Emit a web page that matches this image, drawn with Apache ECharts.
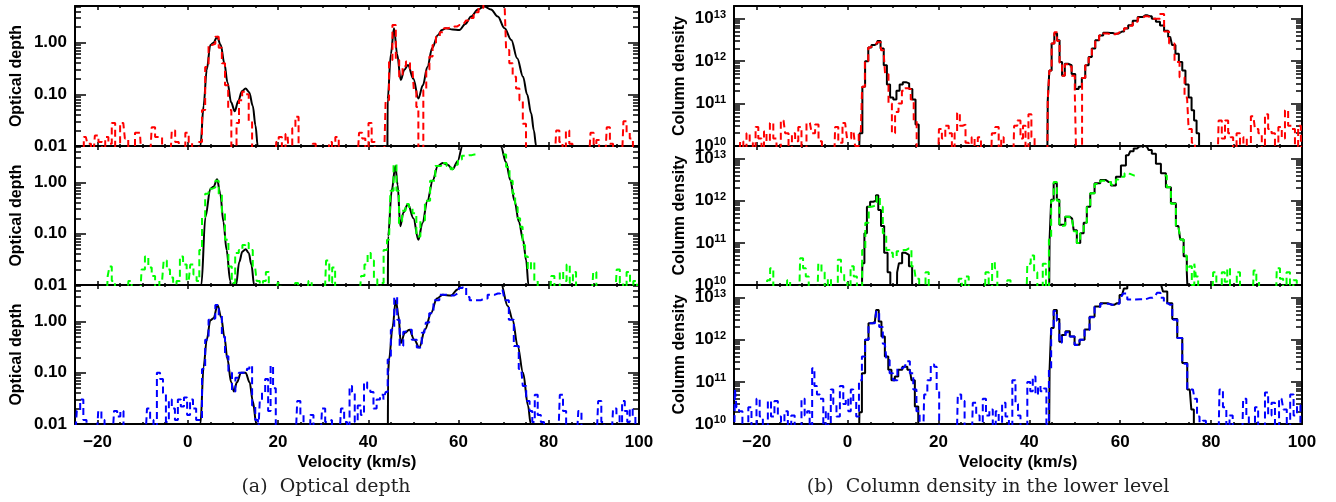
<!DOCTYPE html>
<html>
<head>
<meta charset="utf-8">
<script src="https://cdn.jsdelivr.net/npm/echarts@6/dist/echarts.min.js"></script>
<style>
  html, body { margin: 0; padding: 0; background: #fff; }
  #chart { width: 1336px; height: 502px; }
</style>
</head>
<body>
<div id="chart"></div>
<script>
// ---------- Velocity axis ticks (km/s) ----------
const velMajorTicks = [-20, 0, 20, 40, 60, 80, 100];
const velMinorTicks = [-15, -10, -5, 5, 10, 15, 25, 30, 35, 45, 50, 55, 65, 70, 75, 85, 90, 95];
const tauTickLabels = [0.01, 0.1, 1];
const colTickLabels = [1e10, 1e11, 1e12, 1e13];

// ---------- Optical depth: model (black) and measured (dashed) [velocity, tau] ----------
const tauModelA = [[2.6,0.002],[2.8,0.01],[3.5,0.06],[4.2,0.3],[5.0,0.9],[5.7,1.0],[6.5,1.3],[7.3,0.9],[8.1,0.4],[8.8,0.17],[9.6,0.07],[10.4,0.047],[11.2,0.075],[12.0,0.115],[12.8,0.13],[13.6,0.11],[14.4,0.06],[15.0,0.025],[15.5,0.01],[15.8,0.003],
  [44.2,0.002],[44.3,0.08],[45.0,0.6],[45.7,1.9],[46.4,0.6],[47.2,0.19],[48.0,0.3],[48.8,0.37],[50.0,0.2],[51.1,0.083],[52.1,0.15],[53.1,0.34],[54.2,0.8],[55.4,1.4],[56.3,1.75],[57.2,1.9],[58.7,1.8],[60.2,1.76],[61.5,2.3],[62.8,3.2],[64.3,4.4],[65.7,5.0],[67.2,4.4],[68.7,3.2],[70.2,1.9],[71.7,1.13],[73.0,0.5],[74.3,0.22],[75.2,0.1],[76.1,0.043],[76.7,0.02],[77.2,0.01],[77.5,0.004]];

const tauRed = [[-25,0.005],[-23.5,0.005],[-22.6,0.015],[-21.9,0.011],[-21,0.005],[-20.2,0.016],[-19.4,0.012],[-18.6,0.005],[-18,0.015],[-17.2,0.011],[-16.5,0.028],[-15.7,0.005],[-14.3,0.028],[-13.6,0.014],[-12.8,0.005],[-10.6,0.018],[-9.9,0.005],[-8.4,0.005],[-7.6,0.023],[-6.9,0.015],[-6.1,0.015],[-5.3,0.005],[-3.9,0.005],[-3.2,0.02],[-2.4,0.012],[-1.6,0.005],[-0.9,0.005],[-0.2,0.018],[0.6,0.012],[1.3,0.005],[2.1,0.005],[2.8,0.012],[3.5,0.05],[4.2,0.34],[5.0,0.9],[5.7,0.95],[6.5,1.3],[7.2,0.8],[7.9,0.4],[8.6,0.15],[9.3,0.05],[10.0,0.006],[10.6,0.006],[11.0,0.028],[11.7,0.077],[12.4,0.112],[13.1,0.1],[13.9,0.03],[14.6,0.005],
  [19.4,0.005],[19.8,0.012],[20.5,0.015],[21.2,0.005],[22.1,0.017],[22.8,0.005],[23.5,0.022],[24.2,0.037],[24.9,0.005],[27.4,0.005],[28,0.011],[28.7,0.005],[31.1,0.005],[31.6,0.012],[32.3,0.005],[33.1,0.015],[33.8,0.005],[37.6,0.005],[38.3,0.018],[39,0.014],[39.7,0.005],[40.4,0.028],[41.1,0.012],[41.8,0.005],[43.5,0.005],
  [44.2,0.077],[45.0,0.46],[45.7,2.2],[46.5,0.46],[47.2,0.22],[48.0,0.35],[48.7,0.43],[49.8,0.3],[50.4,0.12],[50.9,0.057],[51.3,0.005],[51.9,0.005],[52.5,0.12],[53.2,0.3],[53.9,0.54],[54.6,0.9],[55.4,1.3],[56.3,1.6],[57.2,1.9],[58.1,1.95],[59.1,2.05],[60.2,2.2],[61.3,2.4],[62.0,2.7],[62.8,3.0],[63.9,3.9],[65,4.7],[66,6],[67,7],[68,7.5],[69,8],[70.2,6],[70.9,0.72],[71.6,0.4],[72.4,0.22],[73.1,0.13],[73.9,0.077],[74.6,0.027],[75.3,0.005],
  [81.3,0.005],[82,0.02],[82.7,0.012],[83.4,0.005],[84.2,0.02],[84.9,0.011],[85.6,0.005],[88.9,0.005],[89.6,0.018],[90.3,0.005],[90.8,0.013],[91.5,0.005],[92.5,0.005],[93.2,0.023],[93.9,0.011],[94.6,0.005],[96.2,0.005],[96.9,0.03],[97.6,0.018],[98.3,0.014],[99,0.005],[100,0.005]];

const tauModelB = [[2.8,0.002],[3.0,0.01],[3.9,0.21],[5.0,0.75],[5.7,0.82],[6.5,1.15],[7.2,0.6],[7.9,0.17],[8.6,0.048],[9.4,0.012],[9.6,0.008],[9.8,0.002],[10.5,0.002],[10.7,0.01],[11.4,0.028],[12.1,0.045],[12.8,0.05],[13.5,0.042],[14.1,0.025],[14.7,0.01],[14.9,0.002],
  [44.3,0.002],[44.4,0.09],[45.2,0.7],[46.0,2.1],[46.5,0.9],[47.1,0.14],[47.8,0.26],[48.8,0.38],[50.0,0.2],[51.1,0.076],[52.0,0.16],[53.1,0.44],[54.3,1.1],[55.4,2.1],[56.5,2.4],[57.6,2.2],[58.7,1.8],[59.8,2.6],[60.9,5.2],[62.5,10],[64,14],[65.7,16],[67.5,12],[69.4,5],[70.5,2.5],[71.5,1.1],[72.4,0.44],[73.4,0.17],[74.3,0.076],[75.0,0.03],[75.5,0.01],[75.8,0.002]];

const tauGreen = [[-25,0.005],[-18,0.005],[-17.5,0.015],[-17.2,0.023],[-16.5,0.012],[-15.8,0.005],[-13.5,0.005],[-12.8,0.012],[-12.1,0.005],[-10.6,0.005],[-9.9,0.02],[-9.1,0.036],[-8.4,0.022],[-7.6,0.015],[-6.9,0.005],[-5.7,0.012],[-5.0,0.03],[-4.3,0.02],[-3.6,0.014],[-2.9,0.005],[-2.1,0.012],[-1.4,0.036],[-0.7,0.025],[0.2,0.012],[0.9,0.025],[1.6,0.016],[2.3,0.012],[2.8,0.048],[3.5,0.21],[4.2,0.6],[5,0.75],[5.7,0.8],[6.5,1.08],[7.2,0.6],[7.9,0.25],[8.6,0.076],[9.4,0.023],[10.1,0.011],[10.9,0.042],[11.7,0.048],[12.5,0.06],[13.1,0.066],[13.9,0.048],[14.9,0.023],[15.6,0.012],[16.3,0.005],[17,0.012],[17.6,0.018],[18.3,0.005],
  [19.6,0.005],[20.2,0.011],[20.9,0.005],[23.5,0.005],[24.1,0.011],[24.8,0.005],[26.4,0.005],[27.1,0.012],[27.8,0.005],[30.3,0.005],[31,0.03],[31.7,0.011],[32.3,0.022],[33.0,0.005],[38,0.005],[38.8,0.015],[39.5,0.025],[40.2,0.042],[40.9,0.03],[41.6,0.013],[42.4,0.005],[43.1,0.011],[43.7,0.048],
  [44.6,0.076],[45.2,0.69],[46,2.25],[46.5,0.69],[47.1,0.16],[47.9,0.28],[48.6,0.38],[49.4,0.33],[50.2,0.25],[51.1,0.088],[52,0.18],[53.1,0.44],[54.3,1.08],[55.4,2.1],[56.9,2.4],[57.8,2.1],[58.7,1.8],[59.5,2.2],[60.2,2.8],[61.3,3.3],[62.4,3.4],[63.5,3.5],[64.0,null],[69.6,null],[70.2,3.5],[70.9,2.0],[71.7,1.08],[72.3,0.6],[72.8,0.33],[73.4,0.2],[73.9,0.137],[74.5,0.06],[75,0.036],[75.7,0.02],[76.4,0.028],[77.2,0.012],[77.9,0.005],
  [80.2,0.005],[80.9,0.015],[81.6,0.005],[82.1,0.005],[82.8,0.018],[83.6,0.012],[84.3,0.025],[85,0.011],[85.7,0.018],[86.4,0.005],[89.5,0.005],[90.2,0.018],[90.9,0.005],[94.7,0.005],[95.4,0.02],[96.1,0.011],[96.9,0.005],[97.6,0.018],[98.4,0.005],[99.1,0.012],[100,0.005]];

const tauModelC = [[2.6,0.002],[2.8,0.01],[3.5,0.13],[4.2,0.44],[5.0,1.05],[5.7,1.15],[6.6,2.1],[7.4,1.2],[8.1,0.5],[8.8,0.18],[9.6,0.065],[10.2,0.043],[10.9,0.065],[11.8,0.1],[12.8,0.1],[13.7,0.065],[14.4,0.028],[15.2,0.01],[15.5,0.002],
  [44.3,0.002],[44.4,0.1],[44.6,0.18],[45.4,0.8],[46.1,2.6],[46.7,1.3],[47.2,0.38],[48.1,0.6],[49.1,0.69],[50.2,0.44],[51.3,0.31],[52.6,0.7],[53.9,1.45],[55.2,2.8],[56.5,3.3],[58.3,3.2],[59.8,4.2],[60.7,5.5],[62.5,11],[65.5,18],[68,11],[69.4,5.5],[70.9,2.0],[72.0,1.08],[73.1,0.33],[74.3,0.1],[75.4,0.023],[76.0,0.01],[76.3,0.002]];

const tauBlue = [[-25,0.005],[-24.2,0.018],[-23.5,0.03],[-22.8,0.012],[-22.1,0.005],[-20.2,0.005],[-19.5,0.018],[-18.8,0.012],[-18.1,0.005],[-16.7,0.005],[-16,0.018],[-15.3,0.014],[-14.6,0.018],[-13.9,0.005],[-9.4,0.005],[-8.7,0.02],[-8,0.012],[-7.2,0.005],[-6.5,0.1],[-5.8,0.075],[-5.2,0.04],[-4.5,0.011],[-3.9,0.03],[-3.2,0.02],[-2.5,0.012],[-1.9,0.03],[-1.2,0.022],[-0.5,0.033],[0.2,0.015],[0.8,0.03],[1.5,0.02],[2.2,0.012],[2.8,0.012],
  [3.5,0.118],[4.2,0.44],[5,1.08],[5.7,1.15],[6.5,2.1],[7.2,1.3],[7.9,0.5],[8.6,0.21],[9.4,0.1],[10.2,0.043],[10.9,0.08],[11.7,0.1],[12.3,0.1],[12.8,0.1],[13.4,0.12],[13.9,0.137],[14.6,0.023],[15.3,0.012],[15.8,0.005],[16.1,0.028],[16.8,0.042],[17.5,0.075],[18.1,0.018],[18.6,0.137],[19.2,0.05],[19.8,0.005],
  [23.9,0.005],[24.6,0.028],[25.3,0.015],[26,0.005],[26.8,0.005],[27.5,0.015],[28.2,0.005],[29.4,0.005],[30.1,0.02],[30.8,0.011],[31.6,0.012],[32.3,0.005],[33.6,0.005],[34.3,0.02],[35,0.011],[35.6,0.005],[36.1,0.055],[36.7,0.042],[37.3,0.011],[38,0.023],[38.7,0.015],[39.4,0.065],[40.1,0.05],[40.8,0.042],[41.5,0.02],[42.2,0.03],[43,0.037],[43.7,0.03],[44.0,0.042],
  [44.6,0.18],[45.4,0.69],[46.1,3.0],[46.7,1.08],[47.2,0.33],[48.3,0.63],[49.1,0.69],[50.2,0.44],[51.3,0.31],[52.4,0.6],[53.1,0.95],[53.9,1.45],[55,2.6],[56.5,3.3],[58.3,3.2],[59.8,3.5],[60.5,4.5],[61.3,6],[62.1,3],[62.8,2.6],[64.3,2.6],[65.7,2.8],[67.2,3.3],[68.7,3.5],[69.8,4],[70.6,2.6],[71.7,1.08],[72.8,0.33],[73.9,0.118],[74.6,0.055],[75.4,0.028],[76.1,0.018],[76.6,0.011],[77.2,0.037],[77.9,0.015],[78.6,0.011],[79.3,0.005],
  [82.1,0.005],[82.8,0.037],[83.5,0.018],[84.2,0.005],[86.2,0.005],[86.9,0.018],[87.6,0.005],[90.6,0.005],[91.3,0.028],[92,0.011],[92.7,0.005],[93.9,0.005],[94.6,0.02],[95.4,0.015],[96,0.005],[96.5,0.028],[97.2,0.018],[97.6,0.011],[98.3,0.02],[98.9,0.014],[99.5,0.005],[100,0.005]];

// ---------- Column density in the lower level: model (black) and measured (dashed) [velocity, N] ----------
const colModelA = [[-25,1e9],[2.3,1e9],[3.0,2e10],[3.5,2.5e11],[4.2,1e12],[4.9,2.1e12],[5.6,2.4e12],[6.2,2.6e12],[6.9,3e12],[7.6,2e12],[8.3,8e11],[9.0,2.8e11],[9.7,1.4e11],[10.4,1.25e11],[11.1,2e11],[11.8,2.8e11],[12.5,3.2e11],[13.2,3e11],[13.9,2.2e11],[14.6,1.25e11],[15.3,3.2e10],[16.0,1e9],
  [43.9,1e9],[44.2,1.2e11],[44.6,6e11],[45.2,2.6e12],[45.8,4.5e12],[46.4,3.1e12],[46.9,9.5e11],[47.5,4.6e11],[48.1,8.7e11],[48.9,8e11],[49.7,5e11],[50.5,2.2e11],[51.2,2.5e11],[51.9,4e11],[52.7,8e11],[53.4,1.26e12],[54.1,2e12],[54.9,3.1e12],[55.8,4e12],[56.7,4.7e12],[57.8,4.6e12],[58.9,4.4e12],[59.7,4.5e12],[60.4,5e12],[61.3,5.9e12],[62.2,7e12],[63.3,9e12],[64.4,1.1e13],[65.5,1.2e13],[66.5,1.15e13],[67.4,1e13],[68.3,8.5e12],[69.2,6.9e12],[70.1,5.2e12],[71.0,3.7e12],[71.8,2.4e12],[72.5,1.5e12],[73.3,9.5e11],[74.0,6e11],[74.7,2.8e11],[75.4,1.4e11],[76.0,7e10],[76.5,4e10],[77.1,2e10],[77.6,1e9],[100,1e9]];

const colRed = [[-25,1e9],[-24,1e9],[-23.3,1.3e10],[-22.6,1e9],[-21.9,2e10],[-21.2,1.2e10],[-20.5,1e9],[-20,2.8e10],[-19.3,1.5e10],[-18.6,1e9],[-18.2,2.2e10],[-17.5,1.3e10],[-16.7,3.5e10],[-16,1.5e10],[-15.3,1e9],[-14.1,4e10],[-13.4,2e10],[-12.6,1e9],[-11.9,2e10],[-11.2,1.3e10],[-10.5,2.8e10],[-9.8,1e9],[-8.3,3.5e10],[-7.5,2e10],[-6.8,3.2e10],[-6.0,1.3e10],[-5.3,1e9],[-3.1,1e9],[-2.4,2.8e10],[-1.7,1.2e10],[-0.55,3.5e10],[0.3,1.5e10],[1.3,2.2e10],[2.0,1e10],[2.9,2e10],
  [3.5,2.5e11],[4.1,1e12],[5.0,2.1e12],[5.7,2.3e12],[6.2,2.5e12],[6.8,2.8e12],[7.9,1.8e12],[8.6,5e11],[9.4,1e11],[10.1,2e10],[10.8,6.3e10],[11.6,1e11],[12.3,2e11],[13.0,2.3e11],[13.6,2.2e11],[14.2,1.25e11],[14.9,4e10],[15.5,1e9],
  [19.8,1e9],[20.4,2.5e10],[21.1,1.5e10],[21.9,3e10],[22.6,2e10],[23.3,1e9],[23.8,2e10],[24.4,6e10],[25,3e10],[25.6,3.2e10],[26.3,1.2e10],[27,1e9],[27.6,1.6e10],[28.3,1e9],[29,1.6e10],[29.7,1e9],[31.4,1e9],[32.1,2e10],[32.9,2.8e10],[33.6,1e9],[34,1.6e10],[34.7,1e9],[36.3,1e9],[37,3e10],[37.7,4e10],[38.4,1.5e10],[38.8,3e10],[39.5,1e9],[40.1,5.6e10],[40.8,1.6e10],[41.5,1e9],[43.9,1e9],
  [44.2,1.2e11],[44.6,6e11],[45.2,2.6e12],[45.8,4.8e12],[46.4,3e12],[46.9,9e11],[47.5,4.5e11],[48.1,8.5e11],[48.9,7.5e11],[49.7,4.5e11],[50.3,1.8e11],[50.6,1e9],[51.3,1e9],[51.9,4e11],[52.7,8e11],[53.4,1.2e12],[54.1,2e12],[54.9,3.1e12],[55.8,4e12],[56.7,4.5e12],[57.8,4.3e12],[58.9,4.3e12],[59.7,4.6e12],[60.4,5.2e12],[61.3,6e12],[62.2,6.8e12],[63.3,8.5e12],[64.4,1.05e13],[65.5,1.15e13],[66.5,1.1e13],[67.4,1e13],[68.3,1e13],[69.2,1.3e13],[70.1,5e12],[71.4,2.6e12],[72.5,9.5e11],[73.6,4.2e11],[74.7,1.4e11],[75.4,2.5e10],[76.1,1.2e10],[76.8,1e9],
  [81.3,1e9],[82,4e10],[82.7,1.5e10],[83.4,4e10],[84.1,2e10],[84.5,1.6e10],[85.2,1e9],[86,2e10],[86.7,1e9],[87.5,1.6e10],[88.2,1e9],[89.3,5e10],[90,2.5e10],[90.8,2e10],[91.5,1e9],[92.2,5.6e10],[92.9,2.5e10],[93.7,2e10],[94.4,1e9],[95.2,2.8e10],[95.9,1.5e10],[96.6,7e10],[97.3,3e10],[98.1,2.5e10],[98.8,1e10],[99.5,3e10],[100,1e9]];

const colModelB = [[-25,1e9],[3.0,1e9],[3.5,3.3e10],[3.9,1.7e11],[4.6,7.2e11],[5.3,9.5e11],[6.0,1e12],[6.5,1.35e12],[7.0,6e11],[7.7,2.5e11],[8.4,5.8e10],[9.2,2e10],[9.6,1e9],[10.8,1e9],[11.0,2e10],[11.6,3.3e10],[12.4,5.8e10],[13.1,5.2e10],[13.9,2.8e10],[14.5,1e9],
  [44.3,1e9],[44.6,1.2e11],[45.0,1.05e12],[45.7,2.6e12],[46.4,1.05e12],[46.8,2.7e11],[47.5,2.7e11],[48.3,4.2e11],[49.4,3.8e11],[50.1,2e11],[50.8,1e11],[51.6,1.7e11],[52.3,3e11],[53.0,7.2e11],[53.8,1.5e12],[54.9,2.6e12],[56.3,3.1e12],[57.4,2.8e12],[58.5,2.3e12],[59.6,3.7e12],[60.7,6.9e12],[61.8,1.2e13],[62.6,1.5e13],[63.3,1.75e13],[64.2,1.95e13],[65.0,2e13],[65.9,1.9e13],[66.6,1.6e13],[67.3,1.3e13],[68.4,7.6e12],[69.5,4.5e12],[70.6,2.1e12],[71.7,8.7e11],[72.8,2.5e11],[73.6,1.2e11],[74.3,4.8e10],[75.0,2e10],[75.3,1e9],[100,1e9]];

const colGreen = [[-25,1e9],[-18,1e9],[-17.4,1.3e10],[-16.7,2.5e10],[-16,1e9],[-13.6,1e9],[-13,1.3e10],[-12.3,1e9],[-10.8,1e9],[-10.1,4.3e10],[-9.5,2.5e10],[-8.9,1.6e10],[-8.2,1e9],[-6.8,1e9],[-6.1,3.2e10],[-5.4,2e10],[-4.7,1e9],[-4,1.4e10],[-3.3,1e9],[-2.5,1e9],[-1.8,4e10],[-1.1,2e10],[-0.4,1.3e10],[0.3,1e9],[1.0,2.8e10],[1.7,1.6e10],[2.4,1e9],[2.9,1e9],
  [3.5,6.8e10],[4.3,3e11],[5.0,7.2e11],[5.6,7.5e11],[6.0,8e11],[6.8,1.26e12],[7.4,7.2e11],[8.1,1.7e11],[8.9,6.8e10],[9.6,5.8e10],[10.3,4.6e10],[11.3,6.3e10],[12.4,6.8e10],[13.5,7.4e10],[14.6,2.8e10],[15.4,1.4e10],[16.1,1e9],[16.8,1e9],[17.5,2e10],[18.2,1e9],
  [24.1,1e9],[24.8,1.4e10],[25.5,1e9],[26.3,1.6e10],[27,1e9],[30,1e9],[30.7,2e10],[31.4,1e9],[32.2,3.5e10],[32.6,2.5e10],[33.3,1e9],[34.8,1e9],[35.5,1.3e10],[36.2,1e9],[39.2,1e9],[39.9,3.2e10],[40.7,5e10],[41.4,2e10],[42.1,1e9],[42.6,1e9],[43.3,3.2e10],[44.0,1e9],
  [44.6,1.2e11],[45.0,1e12],[45.7,2.8e12],[46.4,1e12],[46.8,2.5e11],[47.5,2.6e11],[48.3,4.2e11],[49.4,3.6e11],[50.1,1.9e11],[50.8,1e11],[51.6,1.7e11],[52.3,3e11],[53.0,7e11],[53.8,1.5e12],[54.9,2.5e12],[56.3,3e12],[57.4,2.8e12],[58.5,2.4e12],[59.6,3.2e12],[60.4,3.7e12],[61.5,4.5e12],[62.3,4.3e12],[63.0,4e12],[63.4,null],[69.6,null],[69.9,4e12],[70.6,2.1e12],[71.7,8.5e11],[72.8,2.6e11],[73.6,1.2e11],[74.3,5e10],[75.0,2.2e10],[75.4,2.8e10],[76.1,1e10],[76.5,3.2e10],[76.8,1.6e10],[77.5,1e9],
  [80.1,1e9],[80.8,2e10],[81.5,1e9],[82,1e9],[82.7,2e10],[83.3,1.2e10],[83.8,2.5e10],[84.5,1e9],[85.3,1e9],[86,2e10],[86.7,1e9],[89,1e9],[89.7,2.2e10],[90.2,1.3e10],[90.9,1e9],[94.1,1e9],[94.8,2.5e10],[95.5,1.4e10],[96.2,1e9],[97,2e10],[97.7,1e9],[98.5,1.3e10],[99.2,1e9],[100,1e9]];

const colModelC = [[-25,1e9],[2.4,1e9],[2.8,1.9e10],[3.5,1.6e11],[4.2,1e12],[5.0,2.45e12],[6.0,2.7e12],[6.6,5.1e12],[7.1,2.7e12],[7.8,1.2e12],[8.6,4e11],[9.3,1.95e11],[10.0,1.1e11],[10.8,1.35e11],[11.5,1.95e11],[12.6,2.3e11],[13.7,1.95e11],[14.4,1.1e11],[15.2,2.6e10],[15.9,1e9],
  [44.3,1e9],[44.6,1.95e11],[45.0,1.9e12],[45.7,5.1e12],[46.4,3.1e12],[46.8,9e11],[47.5,1.3e12],[48.4,1.6e12],[49.4,1.2e12],[50.5,7.6e11],[51.6,1e12],[52.7,1.75e12],[53.8,3.5e12],[54.9,6.2e12],[56.3,7.4e12],[58.2,6.8e12],[59.3,7.4e12],[60.4,1.15e13],[61.2,1.65e13],[61.9,2.1e13],[63,3e13],[65,3.5e13],[67,3e13],[69.0,2e13],[69.8,1.4e13],[70.9,7.4e12],[72.0,3.1e12],[73.1,1.1e12],[74.2,2.8e11],[75.3,6.6e10],[76.0,2.2e10],[76.4,1e9],[100,1e9]];

const colBlue = [[-25,1e9],[-24.6,6.6e10],[-24.3,2.5e10],[-23.5,2e10],[-22.8,1e9],[-22.2,1e9],[-21.5,2.5e10],[-20.8,1e9],[-20.4,1e9],[-19.7,4e10],[-19,1.5e10],[-18.3,1e9],[-17.9,1e9],[-17.2,3.5e10],[-16.5,1.5e10],[-15.7,3.5e10],[-15,1.5e10],[-14.3,1e9],[-13.5,2e10],[-12.8,1e9],[-12,1.6e10],[-11.3,1e9],[-10.5,1e9],[-9.8,4e10],[-9.1,1.6e10],[-8.7,2e10],[-8,1e9],[-7.6,2.1e11],[-7,8e10],[-6.5,5e10],[-5.7,4e10],[-5,1e9],[-4.6,2e10],[-3.9,1e9],[-3.5,6.6e10],[-2.8,3e10],[-2.1,1.5e10],[-1.3,8e10],[-0.6,3e10],[-0.2,4e10],[0.5,2e10],[0.9,6.6e10],[1.6,3.5e10],[2.2,1.5e10],
  [2.8,1.1e11],[3.5,4e11],[4.2,1e12],[5.0,2.45e12],[6.0,2.45e12],[6.6,4.7e12],[7.3,2e12],[8.2,8e11],[8.9,3.3e11],[9.6,1.6e11],[10.4,1.1e11],[11.5,2.1e11],[12.6,2.3e11],[13.3,3.1e11],[14.1,1.6e11],[14.8,6.6e10],[15.5,2e10],[16.2,1e9],[16.5,1e9],[17.2,5e10],[17.9,1.1e11],[18.7,2.6e11],[19.4,2.3e11],[19.8,6.3e10],[20.5,1e9],
  [23.9,1e9],[24.6,5e10],[25.4,3.5e10],[26.1,1e9],[27.2,1e9],[27.9,3.2e10],[28.7,1.6e10],[29.4,1e9],[30.1,4e10],[30.8,1.6e10],[31.6,2.2e10],[32.3,1e9],[32.9,2e10],[33.6,1e9],[34.4,3.2e10],[35.1,1.5e10],[35.9,1e9],[36.6,1.1e11],[37.3,3e10],[37.7,1.6e10],[38.4,1e9],[39.2,1e9],[39.9,1e11],[40.5,6e10],[41,1.35e11],[41.7,5e10],[42.1,8e10],[42.8,6e10],[43.5,7e10],[44.0,1e10],
  [44.6,2e11],[45.0,1.9e12],[45.7,4.8e12],[46.4,2.8e12],[46.8,8.5e11],[47.5,1.2e12],[48.4,1.5e12],[49.4,1.2e12],[50.5,7.5e11],[51.6,1e12],[52.7,1.7e12],[53.8,3.4e12],[54.9,6e12],[56.3,7.2e12],[58.2,6.8e12],[59.3,7.2e12],[60.4,1.1e13],[60.8,1.25e13],[62.3,9e12],[64.4,9.1e12],[66.6,1e13],[67.7,1.1e13],[68.5,1.3e13],[69.2,1e13],[70.0,7.4e12],[70.9,6.8e12],[72.0,3e12],[73.1,1.1e12],[74.2,2.7e11],[75.3,6.6e10],[76.0,6.6e10],[76.7,4e10],[77.1,1.5e10],[77.8,1e9],[78.5,1.2e10],[79.2,1e9],
  [81.5,1e9],[82.2,6.6e10],[83,2.5e10],[83.7,1e9],[84.4,1.6e10],[85.1,1e9],[86.7,1e9],[87.4,4e10],[88.1,1.6e10],[88.5,1e9],[89.3,1e9],[90,2.5e10],[90.7,1e9],[91.5,1e9],[92.2,5.6e10],[92.9,1.6e10],[93.7,3.2e10],[94.4,1e9],[95.5,4e10],[96.3,2.2e10],[97.0,1e9],[97.8,5e10],[98.5,1.6e10],[99.3,2.8e10],[100,1e9]];

// ---------- Layout ----------
const FONT = 'Liberation Sans';
const rows = [
  { top: 6,   height: 140 },
  { top: 146, height: 139 },
  { top: 285, height: 139 }
];
const columns = [
  { left: 75,  width: 564, min: -2, max: 0.71, labels: tauTickLabels, name: 'Optical depth',  nameGap: 50, smooth: true,
    fmt: v => Math.pow(10, v).toFixed(2) },
  { left: 734, width: 568, min: 10, max: 13.3, labels: colTickLabels, name: 'Column density', nameGap: 46, smooth: false,
    fmt: v => '{b|10}{s|' + Math.round(v) + '}' }
];
const panels = [
  { col: 0, row: 0, model: tauModelA, obs: tauRed,   color: '#ff0000' },
  { col: 0, row: 1, model: tauModelB, obs: tauGreen, color: '#00ff00' },
  { col: 0, row: 2, model: tauModelC, obs: tauBlue,  color: '#0000ff' },
  { col: 1, row: 0, model: colModelA, obs: colRed,   color: '#ff0000' },
  { col: 1, row: 1, model: colModelB, obs: colGreen, color: '#00ff00' },
  { col: 1, row: 2, model: colModelC, obs: colBlue,  color: '#0000ff' }
];

const log10 = Math.log10;
const toLog = pts => pts.map(([v, y]) => [v, (y == null) ? '-' : log10(y)]);

// log-decade minor ticks (2..9 per decade) inside a log10 range
function minorLogTicks(lo, hi) {
  const out = [];
  for (let d = Math.floor(lo); d <= Math.ceil(hi); d++) {
    for (let k = 2; k <= 9; k++) {
      const t = d + log10(k);
      if (t > lo && t < hi) out.push(t);
    }
  }
  return out;
}

const grids = [], xAxes = [], yAxes = [], series = [];
const lineBlack = { color: '#000', width: 2 };

panels.forEach((p, i) => {
  const c = columns[p.col], r = rows[p.row];
  const isBottom = p.row === 2;
  grids.push({ left: c.left, top: r.top, width: c.width, height: r.height, containLabel: false });

  const xBase = (pos, ticks, len, line, labels) => ({
    type: 'value', gridIndex: i, position: pos, min: -25, max: 100,
    splitLine: { show: false },
    axisLine: { show: line, onZero: false, lineStyle: lineBlack },
    axisTick: { show: true, inside: true, length: len, customValues: ticks, lineStyle: { color: '#000', width: 1.5 } },
    axisLabel: labels ? {
      show: true, customValues: velMajorTicks, margin: 10, color: '#000',
      fontFamily: FONT, fontWeight: 'bold', fontSize: 17,
      formatter: v => (v < 0 ? '\u2212' + (-v) : String(v))
    } : { show: false },
    name: labels ? 'Velocity (km/s)' : '', nameLocation: 'middle', nameGap: 30,
    nameTextStyle: { color: '#000', fontFamily: FONT, fontWeight: 'bold', fontSize: 17 }
  });
  xAxes.push(xBase('bottom', velMajorTicks, 4, true, isBottom));
  xAxes.push(xBase('bottom', velMinorTicks, 2, false, false));
  xAxes.push(xBase('top', velMajorTicks, 4, true, false));
  xAxes.push(xBase('top', velMinorTicks, 2, false, false));

  const majors = c.labels.map(log10);
  const minors = minorLogTicks(c.min, c.max);
  const yBase = (pos, ticks, len, line, labels) => ({
    type: 'value', gridIndex: i, position: pos, min: c.min, max: c.max,
    splitLine: { show: false },
    axisLine: { show: line, onZero: false, lineStyle: lineBlack },
    axisTick: { show: true, inside: true, length: len, customValues: ticks, lineStyle: { color: '#000', width: 1.5 } },
    axisLabel: labels ? {
      show: true, customValues: majors, margin: 8, color: '#000',
      fontFamily: FONT, fontWeight: 'bold', fontSize: 17,
      formatter: c.fmt,
      rich: {
        b: { fontFamily: FONT, fontWeight: 'bold', fontSize: 17, color: '#000' },
        s: { fontFamily: FONT, fontWeight: 'bold', fontSize: 11, color: '#000', padding: [0, 0, 8, 0] }
      }
    } : { show: false },
    name: labels ? c.name : '', nameLocation: 'middle', nameGap: c.nameGap, nameRotate: 90,
    nameTextStyle: { color: '#000', fontFamily: FONT, fontWeight: 'bold', fontSize: 16 }
  });
  yAxes.push(yBase('left', majors, 11, true, true));
  yAxes.push(yBase('left', minors, 6, false, false));
  yAxes.push(yBase('right', majors, 11, true, false));
  yAxes.push(yBase('right', minors, 6, false, false));

  // model profile (solid black)
  series.push({
    type: 'line', xAxisIndex: i * 4, yAxisIndex: i * 4,
    data: toLog(p.model), showSymbol: false, silent: true, clip: true,
    smooth: c.smooth ? 0.35 : false, smoothMonotone: 'x',
    step: c.smooth ? false : 'middle',
    lineStyle: { color: '#000', width: 2 }, z: 2
  });
  // measured profile (coloured dashed histogram)
  series.push({
    type: 'line', xAxisIndex: i * 4, yAxisIndex: i * 4,
    data: toLog(p.obs), showSymbol: false, silent: true, clip: true,
    step: 'middle', connectNulls: false,
    lineStyle: { color: p.color, width: 2, type: [7, 4] }, z: 3
  });
});

const captionStyle = (text) => ({
  text: text, fill: '#222', font: '19px "DejaVu Serif"',
  align: 'center', verticalAlign: 'middle', textAlign: 'center', textVerticalAlign: 'middle'
});

const chart = echarts.init(document.getElementById('chart'));
chart.setOption({
  animation: false,
  backgroundColor: '#fff',
  grid: grids,
  xAxis: xAxes,
  yAxis: yAxes,
  series: series,
  graphic: [
    { type: 'text', x: 326, y: 487, style: captionStyle('(a)  Optical depth') },
    { type: 'text', x: 988, y: 487, style: captionStyle('(b)  Column density in the lower level') }
  ]
});
</script>
</body>
</html>
